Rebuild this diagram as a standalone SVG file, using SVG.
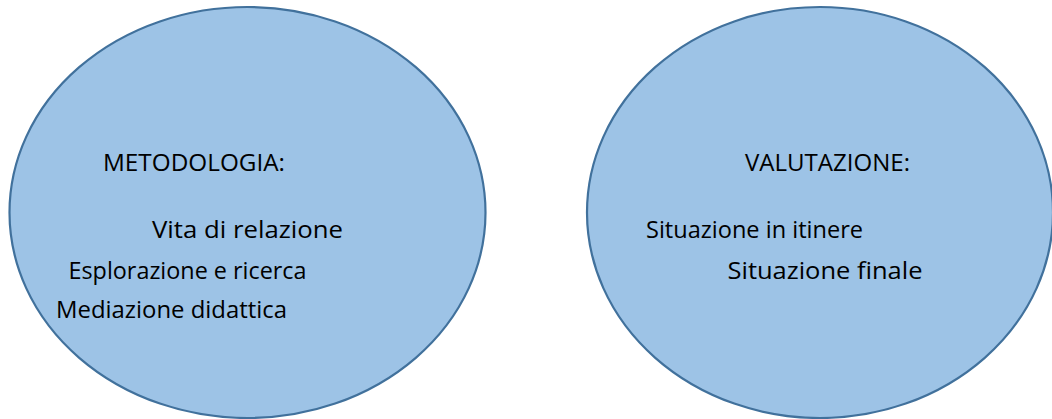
<svg xmlns="http://www.w3.org/2000/svg" width="1052" height="419" viewBox="0 0 1052 419">
  <style>
    .shape { fill: #9DC3E6; stroke: #41719C; stroke-width: 2.2; }
    .label { font-family: "Open Sans", "Noto Sans", "Liberation Sans", sans-serif; font-size: 24px; fill: #000000; }
  </style>
  <rect x="0" y="0" width="1052" height="419" fill="#FFFFFF"/>
  <g id="connectors"></g>
  <g id="node-metodologia">
    <ellipse class="shape" cx="247.5" cy="212.5" rx="238" ry="205.5"/>
    <text class="label" x="103" y="170.5" textLength="182" lengthAdjust="spacingAndGlyphs">METODOLOGIA:</text>
    <text class="label" x="152" y="237.5" textLength="191" lengthAdjust="spacingAndGlyphs">Vita di relazione</text>
    <text class="label" x="68.5" y="278.5" textLength="238" lengthAdjust="spacingAndGlyphs">Esplorazione e ricerca</text>
    <text class="label" x="56" y="317.5" textLength="231" lengthAdjust="spacingAndGlyphs">Mediazione didattica</text>
  </g>
  <g id="node-valutazione">
    <ellipse class="shape" cx="820" cy="212.5" rx="233" ry="205.5"/>
    <text class="label" x="745" y="170.5" textLength="165" lengthAdjust="spacingAndGlyphs">VALUTAZIONE:</text>
    <text class="label" x="646" y="237.5" textLength="217" lengthAdjust="spacingAndGlyphs">Situazione in itinere</text>
    <text class="label" x="727.5" y="278.5" textLength="195" lengthAdjust="spacingAndGlyphs">Situazione finale</text>
  </g>
</svg>
